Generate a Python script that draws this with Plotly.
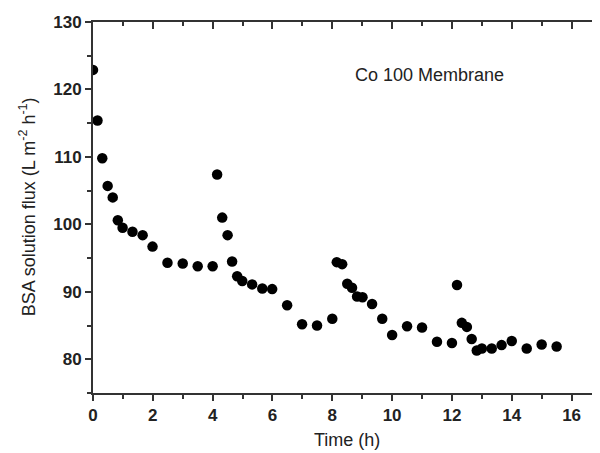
import plotly.graph_objects as go

# Data
time_h = [0, 0.15, 0.31, 0.49, 0.66, 0.83, 0.99, 1.32, 1.66, 1.99, 2.49, 3.0, 3.5, 4.0,
          4.15, 4.32, 4.5, 4.65, 4.82, 4.99, 5.32, 5.66, 5.99, 6.49, 6.99, 7.49, 8.0,
          8.15, 8.33, 8.5, 8.66, 8.83, 9.01, 9.33, 9.67, 10.0, 10.5, 11.0, 11.5, 12.0,
          12.17, 12.33, 12.5, 12.66, 12.83, 13.0, 13.33, 13.66, 14.0, 14.5, 15.0, 15.5]
flux = [122.9, 115.4, 109.8, 105.7, 104.0, 100.6, 99.5, 98.9, 98.4, 96.7, 94.3, 94.2, 93.8, 93.8,
        107.4, 101.0, 98.4, 94.5, 92.3, 91.6, 91.1, 90.5, 90.4, 88.0, 85.2, 85.0, 86.0,
        94.4, 94.1, 91.2, 90.6, 89.3, 89.2, 88.2, 86.0, 83.6, 84.9, 84.7, 82.6, 82.4,
        91.0, 85.4, 84.8, 83.0, 81.3, 81.6, 81.6, 82.1, 82.7, 81.6, 82.2, 81.9]

x_range = [0, 16.95]
y_range = [75, 130]
x_ticks_major = 2
x_ticks_minor = 1
y_ticks_major = 10
y_ticks_minor = 5
label_text = "Co 100 Membrane"
x_title = "Time (h)"
y_title = "BSA solution flux (L m<sup>-2</sup> h<sup>-1</sup>)"

FONT = "Arial, Liberation Sans, sans-serif"
AX = "#333333"
TXT = "#222222"

fig = go.Figure()
# invisible copy on the top/right axes so those mirrored axes are drawn with inward ticks
fig.add_trace(go.Scatter(x=time_h, y=flux, xaxis="x2", yaxis="y2", mode="markers",
                         marker=dict(size=1, opacity=0), showlegend=False,
                         hoverinfo="skip"))
fig.add_trace(go.Scatter(x=time_h, y=flux, mode="markers",
                         marker=dict(size=10.5, color="black"),
                         showlegend=False))

tick_font = dict(family=FONT, size=17, color=TXT, weight="bold")

# the page body has an 8px margin, so the figure is sized to fill the visible window
fig.update_layout(
    width=592, height=445,
    margin=dict(l=85, r=0, t=14, b=60),
    paper_bgcolor="white", plot_bgcolor="white",
    font=dict(family=FONT, color=TXT),
    showlegend=False,
    xaxis=dict(range=x_range, tick0=0, dtick=x_ticks_major, showgrid=False, zeroline=False,
               automargin=False,
               showline=True, linecolor=AX, linewidth=2,
               ticks="outside", ticklen=6, tickwidth=2, tickcolor=AX,
               minor=dict(dtick=x_ticks_minor, ticks="outside", ticklen=4, tickwidth=2,
                          tickcolor=AX),
               tickfont=tick_font),
    yaxis=dict(range=y_range, tick0=80, dtick=y_ticks_major, showgrid=False, zeroline=False,
               automargin=False,
               showline=True, linecolor=AX, linewidth=2,
               ticks="outside", ticklen=6, tickwidth=2, tickcolor=AX,
               minor=dict(dtick=y_ticks_minor, ticks="outside", ticklen=4, tickwidth=2,
                          tickcolor=AX),
               tickfont=tick_font),
    xaxis2=dict(range=x_range, overlaying="x", side="top", anchor="y2",
                dtick=x_ticks_major,
                showline=True, linewidth=2, linecolor=AX,
                ticks="inside", ticklen=7, tickwidth=2, tickcolor=AX,
                minor=dict(dtick=x_ticks_minor, ticks="inside", ticklen=4, tickcolor=AX),
                showticklabels=False),
    yaxis2=dict(range=y_range, overlaying="y", side="right", anchor="x2",
                dtick=y_ticks_major,
                showline=True, linewidth=2, linecolor=AX,
                ticks="inside", ticklen=7, tickwidth=2, tickcolor=AX,
                minor=dict(dtick=y_ticks_minor, ticks="inside", ticklen=4, tickcolor=AX),
                showticklabels=False),
    annotations=[
        dict(text=label_text, x=11.24, y=122.2, xref="x", yref="y",
             showarrow=False, xanchor="center", yanchor="middle",
             font=dict(family=FONT, size=18, color=TXT)),
        dict(text=x_title, x=0.501, y=-0.127, xref="paper", yref="paper",
             showarrow=False, xanchor="center", yanchor="middle",
             font=dict(family=FONT, size=18, color=TXT)),
        dict(text=y_title, x=-0.130, y=0.501, xref="paper", yref="paper",
             showarrow=False, xanchor="center", yanchor="middle", textangle=-90,
             font=dict(family=FONT, size=18, color=TXT)),
    ],
)

fig.write_html("out.html")
